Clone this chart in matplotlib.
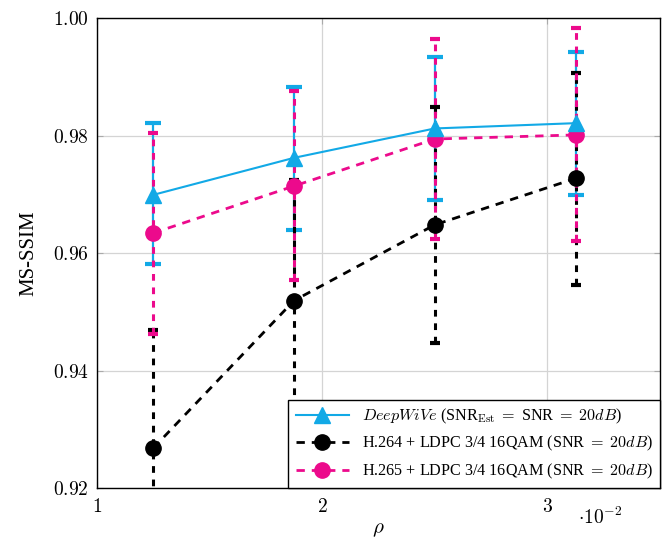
import matplotlib
matplotlib.use("Agg")
import matplotlib.pyplot as plt
from matplotlib.lines import Line2D
import numpy as np

plt.rcParams['font.family'] = ['Liberation Serif', 'DejaVu Serif']
plt.rcParams['mathtext.fontset'] = 'cm'

rho = [1.25, 1.875, 2.5, 3.125]  # x 10^-2

deep = [0.9699, 0.9762, 0.9812, 0.9821]
deep_lo = [0.9581, 0.9639, 0.9690, 0.9699]
deep_hi = [0.9822, 0.9883, 0.9933, 0.9942]

h264 = [0.9268, 0.9519, 0.9648, 0.9727]
h264_lo = [0.9067, 0.9130, 0.9447, 0.9545]
h264_hi = [0.9469, 0.9725, 0.9849, 0.9907]

h265 = [0.9634, 0.9714, 0.9794, 0.9801]
h265_lo = [0.9462, 0.9554, 0.9624, 0.9620]
h265_hi = [0.9804, 0.9876, 0.9964, 0.9983]

labels = [r'$\mathit{DeepWiVe}$ (SNR$_{\rm Est}$ $=$ SNR $=$ $20dB$)',
          r'H.264 + LDPC 3/4 16QAM (SNR $=$ $20dB$)',
          r'H.265 + LDPC 3/4 16QAM (SNR $=$ $20dB$)']

cyan = '#12A9E6'
mag = '#EC0A8C'
blk = '#000000'

fig = plt.figure(figsize=(6.68, 5.52), dpi=100)
ax = fig.add_axes([0.1452, 0.1159, 0.988 - 0.1452, 0.9674 - 0.1159])

def errbar(y, lo, hi, color, ls):
    y = np.array(y); lo = np.array(lo); hi = np.array(hi)
    dashed = ls != '-'
    e = ax.errorbar(rho, y, yerr=[y - lo, hi - y], fmt='none', ecolor=color,
                    elinewidth=2.2 if dashed else 1.6, capsize=3.5 if dashed else 6,
                    capthick=3.0, zorder=2)
    for c in e[2]:
        c.set_linestyle((0, (2.2, 2.2)) if dashed else '-')

errbar(deep, deep_lo, deep_hi, cyan, '-')
errbar(h264, h264_lo, h264_hi, blk, '--')
errbar(h265, h265_lo, h265_hi, mag, '--')

ax.plot(rho, h264, color=blk, ls=(0, (3, 2.5)), lw=2.0, marker='o', ms=11,
        mfc=blk, mec=blk, zorder=3)
ax.plot(rho, h265, color=mag, ls=(0, (3, 2.5)), lw=2.0, marker='o', ms=11,
        mfc=mag, mec=mag, zorder=4)
ax.plot(rho, deep, color=cyan, ls='-', lw=1.5, marker='^', ms=11,
        mfc=cyan, mec=cyan, zorder=5)

ax.set_xlim(1, 3.5)
ax.set_ylim(0.92, 1.0)
ax.set_xticks([1, 2, 3])
ax.set_xticklabels([r'$1$', r'$2$', r'$3$'])
yt = [0.92, 0.94, 0.96, 0.98, 1.00]
ax.set_yticks(yt)
ax.set_yticklabels([r'$%.2f$' % v for v in yt])
ax.tick_params(axis='both', direction='in', length=4, color='#aaaaaa',
               labelsize=14, top=True, right=True, labelcolor='black')
ax.tick_params(axis='y', pad=6)
ax.tick_params(axis='x', pad=7)
ax.grid(True, color='#d4d4d4', lw=0.9)
ax.set_axisbelow(True)
for s in ax.spines.values():
    s.set_linewidth(1.0)
    s.set_color('black')

ax.set_ylabel('MS-SSIM', fontsize=15, labelpad=10)
ax.set_xlabel(r'$\rho$', fontsize=15, labelpad=3)
fig.text(0.866, 0.062, r'$\cdot 10^{-2}$', fontsize=14, ha='left', va='center')

handles = [
    Line2D([], [], color=cyan, ls='-', lw=1.5, marker='^', ms=11, mfc=cyan, mec=cyan),
    Line2D([], [], color=blk, ls=(0, (3, 2.5)), lw=2.0, marker='o', ms=11, mfc=blk, mec=blk),
    Line2D([], [], color=mag, ls=(0, (3, 2.5)), lw=2.0, marker='o', ms=11, mfc=mag, mec=mag),
]
leg = ax.legend(handles, labels, loc='lower right', fontsize=11.6, frameon=True,
                fancybox=False, edgecolor='black', framealpha=1, borderaxespad=0,
                handlelength=3.3, labelspacing=0.5, borderpad=0.45)
leg.get_frame().set_linewidth(1.0)

fig.savefig('out.png', dpi=100)
